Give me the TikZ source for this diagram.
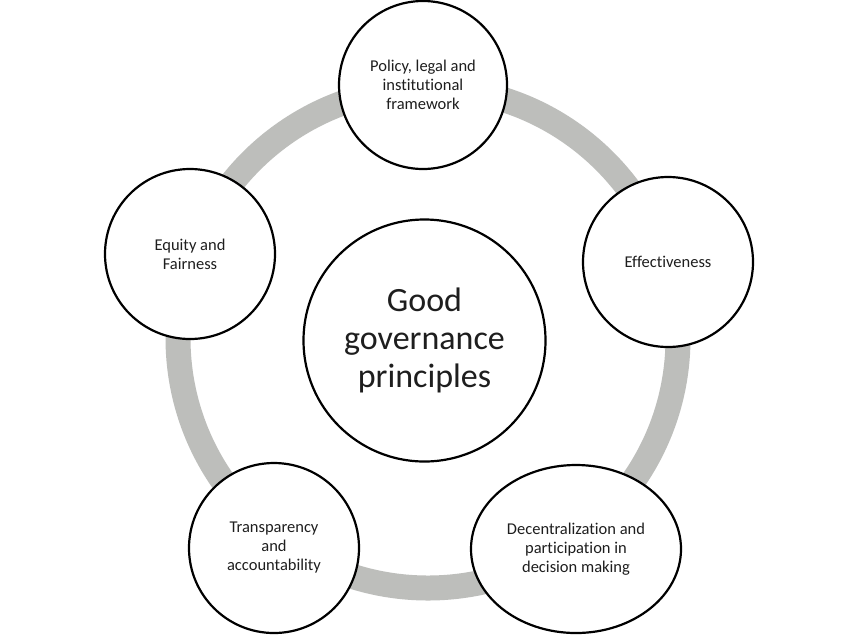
\documentclass[tikz,border=0pt]{standalone}
\usepackage{fontspec}
\setmainfont[Ligatures=NoCommon]{Carlito}
\usetikzlibrary{shapes.geometric}
\definecolor{ringgray}{RGB}{189,190,187}
\definecolor{txt}{RGB}{30,30,30}
\tikzset{
  ringstyle/.style={draw=ringgray, line width=25pt},
  outer/.style={circle, draw=black, line width=2.2pt, fill=white, inner sep=0pt,
    minimum size=170pt, align=center, text=txt,
    font=\fontsize{16.5pt}{19pt}\selectfont},
  outerell/.style={ellipse, draw=black, line width=2.2pt, fill=white, inner sep=0pt,
    minimum width=210pt, minimum height=168pt, align=center, text=txt,
    font=\fontsize{16.5pt}{19pt}\selectfont},
  centre/.style={circle, draw=black, line width=2.2pt, fill=white, inner sep=0pt,
    minimum size=242pt, align=center, text=txt,
    font=\fontsize{34pt}{38pt}\selectfont}
}
\begin{document}
\begin{tikzpicture}[x=1pt,y=-1pt]
\useasboundingbox[fill=white] (0,0) rectangle (850,638);
\coordinate (ringc) at (428,338);
\draw[ringstyle] (ringc) circle (250pt);
\node[centre] (good) at (424.5,340.5) {Good\\governance\\principles};
\node[outer, minimum size=168pt] (policy) at (423,85) {Policy, legal and\\institutional\\framework};
\node[outer] (eff) at (668,262) {Effectiveness};
\node[outerell] (dec) at (576,549) {Decentralization and\\participation in\\decision making};
\node[outer] (trans) at (274,548) {Transparency\\and\\accountability};
\node[outer] (equity) at (190,254) {Equity and\\Fairness};
\end{tikzpicture}
\end{document}
